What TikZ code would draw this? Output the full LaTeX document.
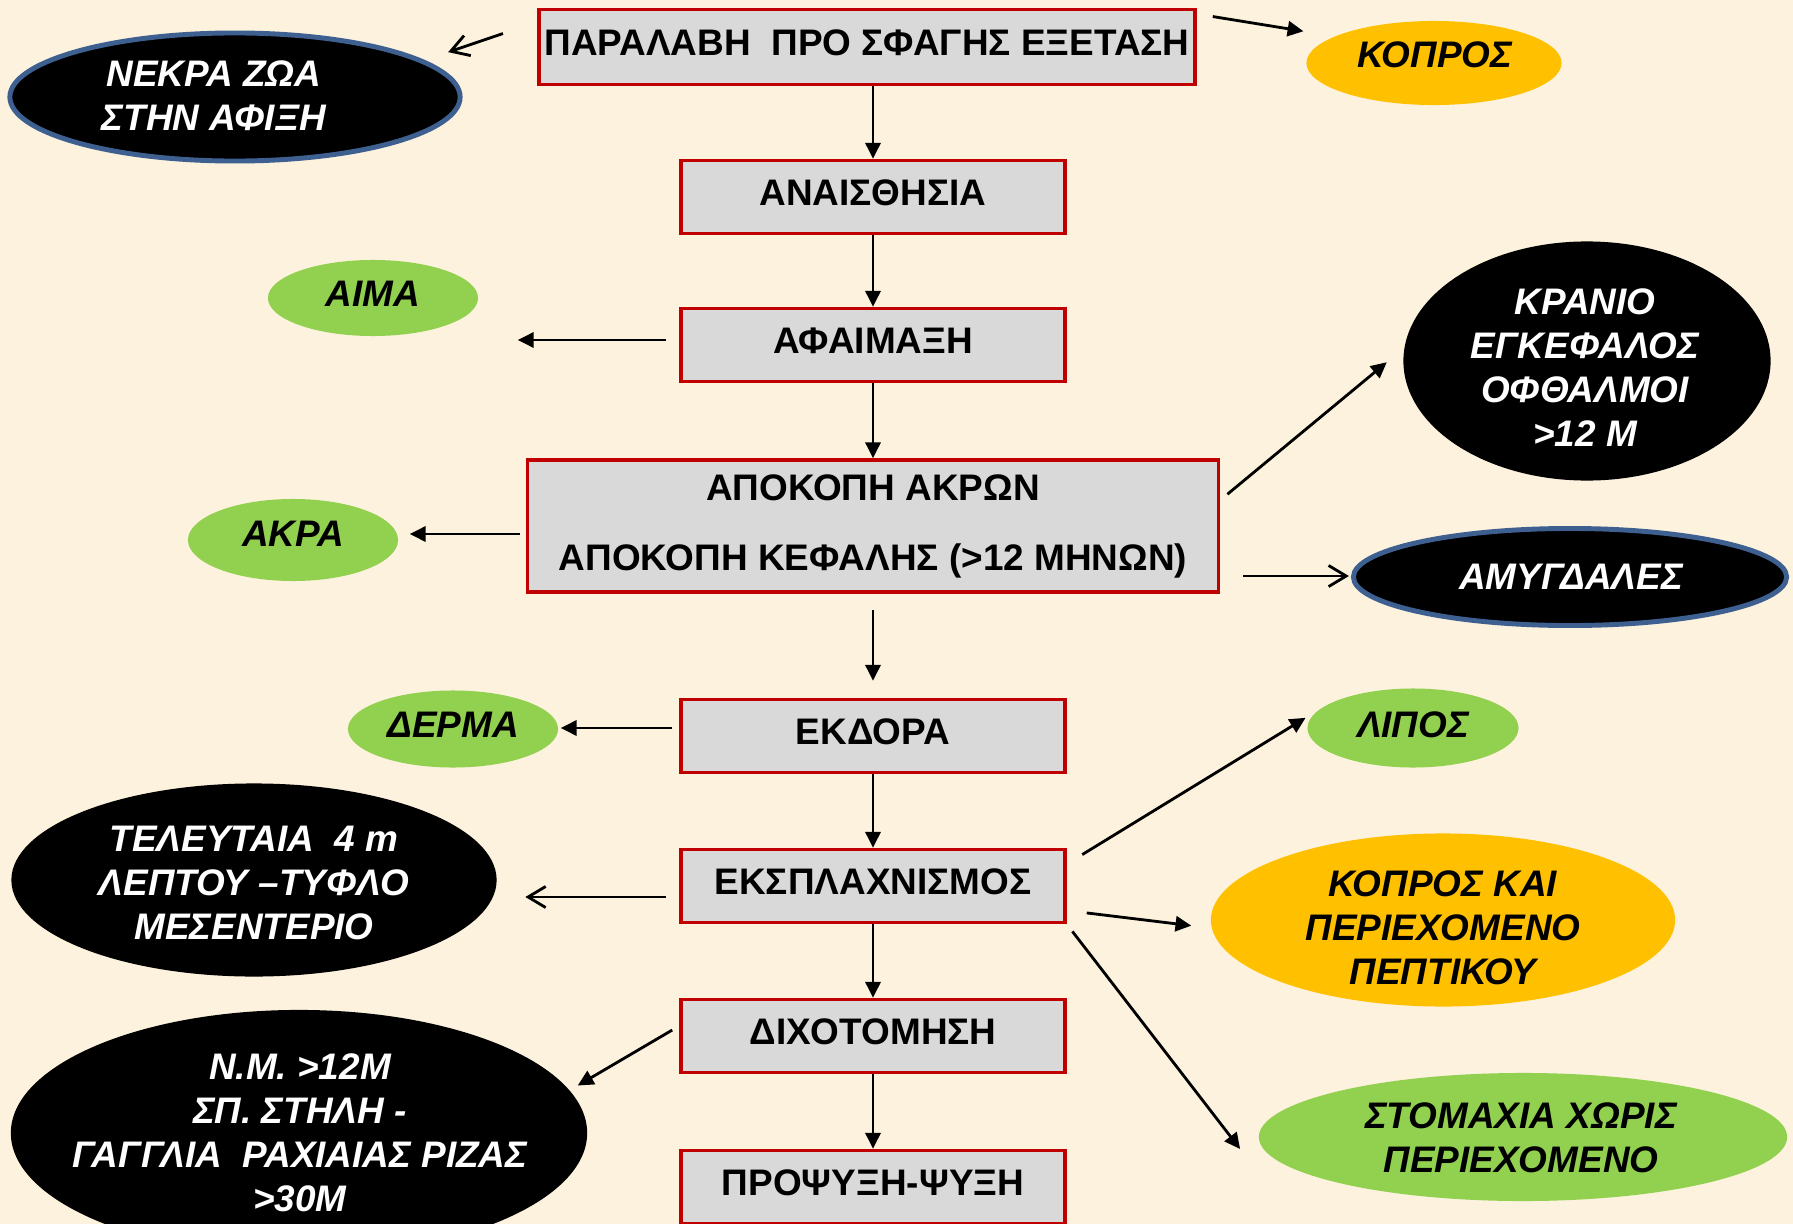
\documentclass[tikz,border=0pt]{standalone}
\usepackage{fontspec}
\setmainfont{Liberation Sans}
\usetikzlibrary{shapes.geometric,arrows.meta}
\definecolor{parchment}{RGB}{252,242,221}
\definecolor{boxgrey}{RGB}{217,217,217}
\definecolor{boxred}{RGB}{192,0,0}
\definecolor{amber}{RGB}{255,192,0}
\definecolor{leaf}{RGB}{146,208,80}
\definecolor{rimblue}{RGB}{62,96,145}
\begin{document}
\begin{tikzpicture}[x=0.01cm,y=-0.01cm,
    font=\fontsize{10.5}{12.5}\selectfont\bfseries,
    stepbox/.style={draw=boxred,line width=1pt,fill=boxgrey,minimum width=3.84cm,
      minimum height=0.73cm,inner sep=0pt,align=center},
    onestep/.style={stepbox,text height=.27cm,text depth=.1cm},
    oval/.style={ellipse,inner sep=0pt},
    darkoval/.style={oval,fill=black},
    rimoval/.style={oval,fill=black,draw=rimblue,line width=1.4pt},
    ovaltext/.style={align=center,inner sep=0pt,
      font=\fontsize{10.5}{12.5}\selectfont\bfseries\itshape},
    feed/.style={line width=0.8pt,-{Triangle[length=4.5pt,width=4.3pt]}},
    spill/.style={line width=0.8pt,-{Straight Barb[length=5pt,width=6pt]}}]
    \fill[parchment] (0,0) rectangle (1793,1224);
    \useasboundingbox (0,0) rectangle (1793,1224);

    \node[onestep,minimum width=6.56cm,minimum height=0.75cm] (recv) at (867,47) {ΠΑΡΑΛΑΒΗ\ \ ΠΡΟ ΣΦΑΓΗΣ ΕΞΕΤΑΣΗ};
    \node[onestep] (stun) at (873,197) {ΑΝΑΙΣΘΗΣΙΑ};
    \node[onestep] (bleed) at (873,345) {ΑΦΑΙΜΑΞΗ};
    \node[stepbox,minimum width=6.91cm,minimum height=1.32cm] (cut) at (873,526) {ΑΠΟΚΟΠΗ ΑΚΡΩΝ\\[7.4pt]ΑΠΟΚΟΠΗ ΚΕΦΑΛΗΣ (>12 ΜΗΝΩΝ)};
    \node[onestep] (skin) at (873,736) {ΕΚΔΟΡΑ};
    \node[onestep] (evisc) at (873,886) {ΕΚΣΠΛΑΧΝΙΣΜΟΣ};
    \node[onestep] (split) at (873,1036) {ΔΙΧΟΤΟΜΗΣΗ};
    \node[onestep] (chill) at (873,1187) {ΠΡΟΨΥΞΗ-ΨΥΞΗ};

    \node[rimoval,minimum width=4.5cm,minimum height=1.28cm] (dead) at (235,97) {};
    \node[ovaltext,text=white] (dead-t) at (214,96) {ΝΕΚΡΑ ΖΩΑ\\ΣΤΗΝ ΑΦΙΞΗ};
    \node[oval,fill=amber,minimum width=2.55cm,minimum height=0.84cm] (dung) at (1434,63) {};
    \node[ovaltext] (dung-t) at (1435,55) {ΚΟΠΡΟΣ};
    \node[oval,fill=leaf,minimum width=2.1cm,minimum height=0.76cm] (blood) at (373,298) {};
    \node[ovaltext] (blood-t) at (373,294) {ΑΙΜΑ};
    \node[darkoval,minimum width=3.67cm,minimum height=2.39cm] (skull) at (1587,361) {};
    \node[ovaltext,text=white] (skull-t) at (1585,368) {ΚΡΑΝΙΟ\\ΕΓΚΕΦΑΛΟΣ\\ΟΦΘΑΛΜΟΙ\\>12 Μ};
    \node[oval,fill=leaf,minimum width=2.1cm,minimum height=0.82cm] (limbs) at (293,540) {};
    \node[ovaltext] (limbs-t) at (293,534) {ΑΚΡΑ};
    \node[rimoval,minimum width=4.33cm,minimum height=0.97cm] (tonsils) at (1570,577) {};
    \node[ovaltext,text=white] (tonsils-t) at (1571,577) {ΑΜΥΓΔΑΛΕΣ};
    \node[oval,fill=leaf,minimum width=2.1cm,minimum height=0.77cm] (hide) at (453,729) {};
    \node[ovaltext] (hide-t) at (453,725) {ΔΕΡΜΑ};
    \node[oval,fill=leaf,minimum width=2.11cm,minimum height=0.79cm] (fat) at (1413,728) {};
    \node[ovaltext] (fat-t) at (1413,725) {ΛΙΠΟΣ};
    \node[darkoval,minimum width=4.85cm,minimum height=1.93cm] (gut) at (254,880) {};
    \node[ovaltext,text=white] (gut-t) at (254,883) {ΤΕΛΕΥΤΑΙΑ\ \ 4 m\\ΛΕΠΤΟΥ –ΤΥΦΛΟ\\ΜΕΣΕΝΤΕΡΙΟ};
    \node[oval,fill=amber,minimum width=4.64cm,minimum height=1.73cm] (content) at (1443,920) {};
    \node[ovaltext] (content-t) at (1443,928) {ΚΟΠΡΟΣ ΚΑΙ\\ΠΕΡΙΕΧΟΜΕΝΟ\\ΠΕΠΤΙΚΟΥ};
    \node[darkoval,minimum width=5.76cm,minimum height=2.46cm] (spine) at (299,1133) {};
    \node[ovaltext,text=white] (spine-t) at (300,1133) {Ν.Μ. >12Μ\\ΣΠ. ΣΤΗΛΗ -\\ΓΑΓΓΛΙΑ\ \ ΡΑΧΙΑΙΑΣ ΡΙΖΑΣ\\>30Μ};
    \node[oval,fill=leaf,minimum width=5.28cm,minimum height=1.28cm] (stomach) at (1523,1137) {};
    \node[ovaltext] (stomach-t) at (1521,1138) {ΣΤΟΜΑΧΙΑ ΧΩΡΙΣ\\ΠΕΡΙΕΧΟΜΕΝΟ};

    \draw[feed] (stun.north |- recv.south) -- (stun.north);
    \draw[feed] (stun) -- (bleed);
    \draw[feed] (bleed) -- (cut);
    \draw[feed,shorten <=.16cm,shorten >=.17cm] (cut) -- (skin);
    \draw[feed] (skin) -- (evisc);
    \draw[feed] (evisc) -- (split);
    \draw[feed] (split) -- (chill);

    \draw[spill,shorten <=.36cm,shorten >=.25cm] ([yshift=.25cm]recv.west) -- (dead.11);
    \draw[feed,shorten <=.16cm,shorten >=.31cm] ([yshift=.33cm]recv.east) -- (dung.165);
    \draw[feed,shorten <=.13cm,shorten >=.39cm] ([yshift=.05cm]bleed.west) -- ([yshift=.05cm]bleed.west -| blood.east);
    \draw[feed,shorten <=.09cm,shorten >=.22cm] ([yshift=.26cm]cut.east) -- (skull.176);
    \draw[feed,shorten <=.06cm,shorten >=.11cm] ([yshift=-.08cm]cut.west) -- ([yshift=-.08cm]cut.west -| limbs.east);
    \draw[spill,shorten <=.23cm,shorten >=.02cm] ([yshift=-.5cm]cut.east) -- ([yshift=-.5cm]cut.east -| tonsils.west);
    \draw[feed,shorten <=.07cm,shorten >=.02cm] ([yshift=.08cm]skin.west) -- ([yshift=.08cm]skin.west -| hide.east);
    \draw[feed,shorten <=.18cm,shorten >=.13cm] ([yshift=.22cm]evisc.east) -- (fat.170);
    \draw[spill,shorten <=.13cm,shorten >=.28cm] ([yshift=-.11cm]evisc.west) -- ([yshift=-.11cm]evisc.west -| gut.east);
    \draw[feed,shorten <=.2cm,shorten >=.2cm] ([yshift=-.245cm]evisc.east) -- (content.182);
    \draw[feed,shorten <=.09cm] (evisc.south east) -- ([xshift=-.18cm,yshift=-.12cm]stomach.west);
    \draw[feed,shorten <=.08cm,shorten >=.09cm] ([yshift=.1cm]split.west) -- (spine.9);
\end{tikzpicture}
\end{document}
